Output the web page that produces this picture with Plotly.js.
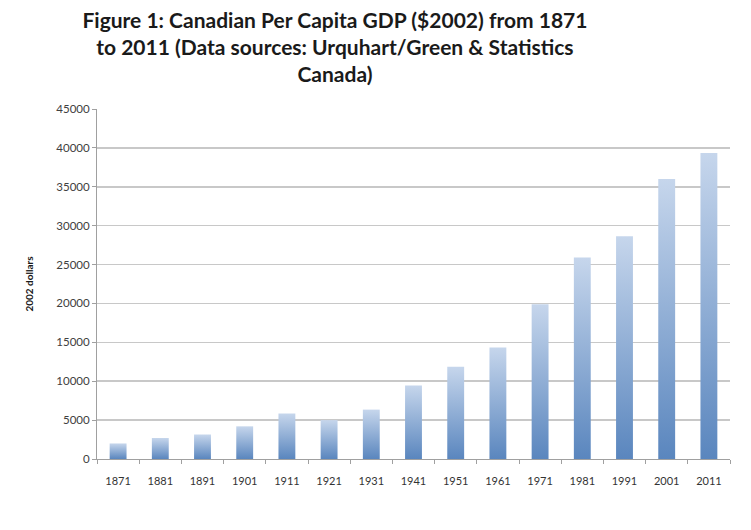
<!DOCTYPE html>
<html>
<head>
<meta charset="utf-8">
<script src="https://cdn.plot.ly/plotly-3.0.1.min.js"></script>
<style>html,body{margin:0;padding:0;background:#fff;}#chart{width:751px;height:530px;}</style>
</head>
<body>
<div id="chart"></div>
<script>
const years = ['1871','1881','1891','1901','1911','1921','1931','1941','1951','1961','1971','1981','1991','2001','2011'];
const gdpPerCapita = [2000, 2700, 3150, 4200, 5850, 5000, 6350, 9450, 11850, 14350, 19900, 25900, 28650, 36000, 39350];
const yTicks = [0, 5000, 10000, 15000, 20000, 25000, 30000, 35000, 40000, 45000];

const trace = {
  type: 'bar',
  x: years,
  y: gdpPerCapita,
  width: 0.4,
  marker: {color: '#8aaad6', line: {width: 0}},
  hoverinfo: 'x+y'
};

const layout = {
  width: 751, height: 530,
  paper_bgcolor: '#ffffff', plot_bgcolor: '#ffffff',
  margin: {l: 97, r: 21, t: 109, b: 71},
  showlegend: false,
  title: {
    text: 'Figure 1: Canadian Per Capita GDP ($2002) from 1871<br>to 2011 (Data sources: Urquhart/Green &amp; Statistics<br>Canada)',
    font: {family: 'Lato, "Open Sans", sans-serif', size: 21, color: '#1a1a1a', weight: 'bold'},
    x: 0.446, xref: 'container', xanchor: 'center',
    y: 0.948, yref: 'container', yanchor: 'top'
  },
  xaxis: {
    type: 'category',
    tickson: 'boundaries',
    ticks: 'outside', ticklen: 4, tickcolor: '#a0a0a0',
    showline: true, linecolor: '#a0a0a0', linewidth: 1,
    showgrid: false,
    ticklabelstandoff: 12,
    tickfont: {family: 'Lato, sans-serif', size: 11, color: '#333333'},
    fixedrange: true
  },
  yaxis: {
    range: [0, 45000],
    tickvals: yTicks,
    ticktext: yTicks.map(String),
    ticks: 'outside', ticklen: 4, tickcolor: '#a0a0a0',
    showline: true, linecolor: '#a0a0a0', linewidth: 1,
    showgrid: true, gridcolor: '#c8c8c8', gridwidth: 1.5,
    zeroline: false,
    tickfont: {family: 'Lato, sans-serif', size: 11.5, color: '#404040'},
    title: {text: '2002 dollars', font: {family: 'Lato, sans-serif', size: 10, color: '#1a1a1a', weight: 'bold'}, standoff: 20},
    fixedrange: true
  },
  bargap: 0.6
};

Plotly.newPlot('chart', [trace], layout, {displayModeBar: false, staticPlot: true}).then(function(gd){
  const svgNS = 'http://www.w3.org/2000/svg';
  const svg = gd.querySelector('svg.main-svg');
  let defs = svg.querySelector('defs');
  if (!defs) { defs = document.createElementNS(svgNS, 'defs'); svg.insertBefore(defs, svg.firstChild); }
  const grad = document.createElementNS(svgNS, 'linearGradient');
  grad.setAttribute('id', 'barGrad');
  grad.setAttribute('x1', '0'); grad.setAttribute('y1', '0');
  grad.setAttribute('x2', '0'); grad.setAttribute('y2', '1');
  [['0%', '#c6d6ec'], ['100%', '#5a86be']].forEach(function(s){
    const st = document.createElementNS(svgNS, 'stop');
    st.setAttribute('offset', s[0]); st.setAttribute('stop-color', s[1]);
    grad.appendChild(st);
  });
  defs.appendChild(grad);
  gd.querySelectorAll('.bars .point path').forEach(function(p){
    p.style.fill = 'url(#barGrad)';
    p.style.fillOpacity = 1;
  });
});
</script>
</body>
</html>
